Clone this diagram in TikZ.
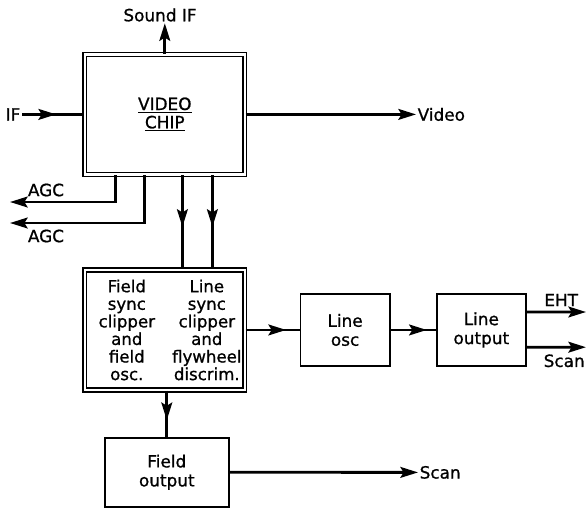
\documentclass[tikz,border=0pt]{standalone}
\usepackage{fontspec}
\setmainfont[FakeBold=0.9]{DejaVu Sans}
\usetikzlibrary{arrows.meta,positioning,decorations.markings}
\tikzset{dblbox/.style={draw,double,line width=1.1pt,double distance=1.6pt,
    minimum width=4cm,minimum height=3cm,align=center,inner sep=0pt,
    font=\fontsize{12}{14}\selectfont},
  blk/.style={draw,line width=1.3pt,minimum width=2.23cm,minimum height=1.8cm,
    align=center,font=\fontsize{12}{13.5}\selectfont},
  lbl/.style={inner sep=1pt,font=\fontsize{12}{13}\selectfont},
  coltext/.style={align=center,inner sep=0pt,font=\fontsize{11.8}{12.5}\selectfont},
  sig/.style={line width=2pt,-{Stealth[length=4.4mm,width=2.7mm,inset=0.8mm]}},
  wire/.style={line width=2pt},
  midtip/.style={wire,postaction={decorate},decoration={markings,
    mark=at position #1 with {\arrow{Stealth[length=4.4mm,width=2.7mm,inset=0.8mm]}}}}}
\begin{document}
\begin{tikzpicture}
    \useasboundingbox (0,0) rectangle (14.675,-12.725);
    \node[dblbox] (chip) at (4.12,-2.86) {\underline{VIDEO}\\[-1pt]\underline{CHIP}};
    \node[dblbox,below=2.35cm of chip] (sync) {};
    \node[coltext] (fsync) at ([xshift=-0.95cm]sync.center) {Field\\sync\\clipper\\and\\field\\osc.};
    \node[coltext] (lsync) at ([xshift=1.05cm]sync.center) {Line\\sync\\clipper\\and\\flywheel\\discrim.};
    \node[blk,right=1.35cm of sync] (lineosc) {Line\\osc};
    \node[blk,right=1.13cm of lineosc] (lineout) {Line\\output};
    \node[blk,minimum width=3.1cm,minimum height=1.73cm,below=1.15cm of sync,xshift=0.05cm] (fieldout) {Field\\output};
    % labels and free ends
    \node[lbl] (sound) at (4.0,-0.375) {Sound IF};
    \node[lbl,anchor=east] (ifin) at (0.55,-2.86) {IF};
    \node[lbl,anchor=west] (video) at (10.4,-2.86) {Video};
    \coordinate (agcA) at (0.25,-5.05);
    \coordinate (agcB) at (0.25,-5.575);
    \node[lbl] (agcAlbl) at (1.15,-4.75) {AGC};
    \node[lbl] (agcBlbl) at (1.15,-5.9) {AGC};
    \coordinate (eht) at (14.65,-7.8);
    \coordinate (lscan) at (14.65,-8.68);
    \node[lbl] (ehtlbl) at (14.03,-7.5) {EHT};
    \node[lbl,anchor=east] (lscanlbl) at (14.66,-9.02) {Scan};
    \node[lbl,anchor=west] (fscan) at (10.45,-11.81) {Scan};
    % connectors
    \draw[sig] (chip.north) -- (chip.north |- sound.south);
    \draw[midtip=0.55] (ifin.east) -- (ifin.east -| chip.west);
    \draw[sig] (chip.east) -- (video.west);
    \draw[sig] ([xshift=-1.24cm]chip.south) |- (agcA);
    \draw[sig] ([xshift=-0.51cm]chip.south) |- (agcB);
    \draw[midtip=0.55] ([xshift=0.44cm]chip.south) -- ([xshift=0.44cm]sync.north);
    \draw[midtip=0.55] ([xshift=1.19cm]chip.south) -- ([xshift=1.19cm]sync.north);
    \draw[midtip=0.75] (sync.east) -- (lineosc.west);
    \draw[midtip=0.8] (lineosc) -- (lineout);
    \draw[sig] ([yshift=0.45cm]lineout.east) -- (eht);
    \draw[sig] ([yshift=-0.43cm]lineout.east) -- (lscan);
    \draw[midtip=0.64] (fieldout.north |- sync.south) -- (fieldout.north);
    \draw[sig] (fieldout.east) -- (fscan.west);
  \end{tikzpicture}
\end{document}
